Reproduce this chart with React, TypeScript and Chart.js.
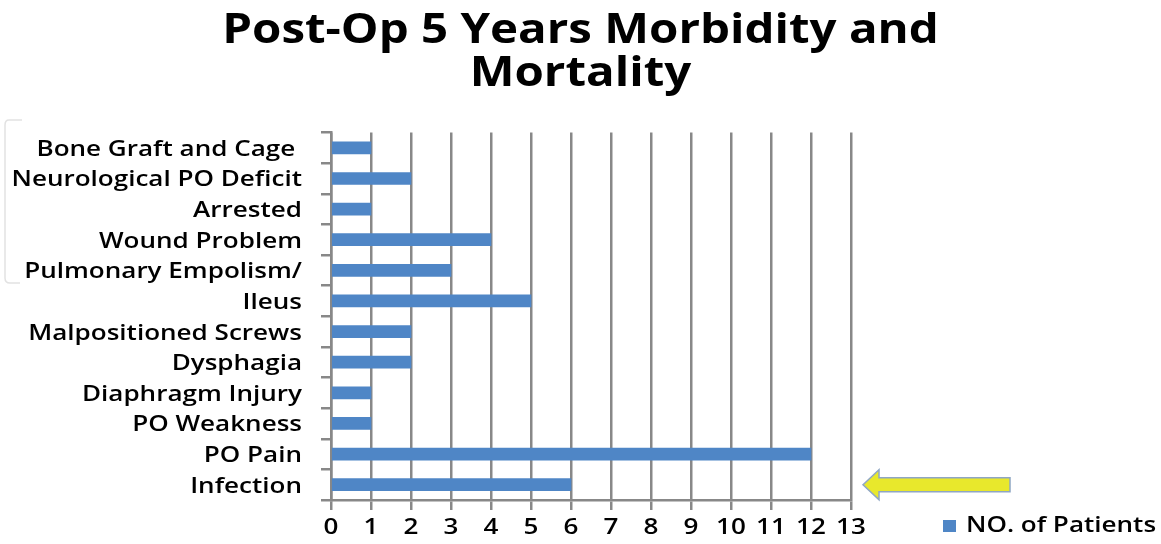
import React, { useEffect, useRef } from "react";
import { Chart, registerables } from "chart.js";

Chart.register(...registerables);

const categories = [
  "Bone Graft and Cage ",
  "Neurological PO Deficit",
  "Arrested",
  "Wound Problem",
  "Pulmonary Empolism/",
  "Ileus",
  "Malpositioned Screws",
  "Dysphagia",
  "Diaphragm Injury",
  "PO Weakness",
  "PO Pain",
  "Infection",
];
const patients = [1, 2, 1, 4, 3, 5, 2, 2, 1, 1, 12, 6];
const seriesLabel = "NO. of Patients";
const titleLines = ["Post-Op 5 Years Morbidity and", "Mortality"];
const xMin = 0;
const xMax = 13;
const highlighted = "Infection";

const BAR = "#4F86C6";
const GRID = "#888888";
const FONT = "'Open Sans', sans-serif";
const STRETCH_BIG = 1.13;
const STRETCH_SMALL = 1.24;

// The reference glyphs are horizontally stretched; emulate by scaling each text draw about its anchor.
function patchStretch(ctx: any) {
  if (ctx.__stretched) return;
  const orig = ctx.fillText.bind(ctx);
  ctx.fillText = function (text: string, x: number, y: number, maxWidth?: number) {
    const m = /(\d+(?:\.\d+)?)px/.exec(ctx.font);
    const size = m ? parseFloat(m[1]) : 12;
    const f = size >= 30 ? STRETCH_BIG : STRETCH_SMALL;
    ctx.save();
    ctx.translate(x, y);
    ctx.scale(f, 1);
    if (maxWidth !== undefined && maxWidth !== null) orig(text, 0, 0, maxWidth / f);
    else orig(text, 0, 0);
    ctx.restore();
  };
  ctx.__stretched = true;
}

const stretchPlugin = {
  id: "stretch",
  beforeInit(chart: any) {
    patchStretch(chart.ctx);
  },
};

const extrasPlugin = {
  id: "extras",
  afterDraw(chart: any) {
    const ctx = chart.ctx;
    const xs = chart.scales.x;
    const ys = chart.scales.y;
    ctx.save();

    // faint frame on the left (scan artifact)
    ctx.strokeStyle = "#e2e2e2";
    ctx.lineWidth = 1.5;
    ctx.beginPath();
    ctx.moveTo(22, 120);
    ctx.lineTo(9, 120);
    ctx.quadraticCurveTo(5, 120, 5, 125);
    ctx.lineTo(5, 278);
    ctx.quadraticCurveTo(5, 283, 10, 283);
    ctx.lineTo(20, 283);
    ctx.stroke();

    // arrow pointing at the highlighted bar
    const idx = categories.indexOf(highlighted);
    const cy = ys.getPixelForValue(idx);
    const tipX = xs.getPixelForValue(xMax) + 12;
    const headX = tipX + 16;
    const endX = tipX + 147;
    const headH = 15;
    const shaftH = 7;
    ctx.beginPath();
    ctx.moveTo(tipX, cy);
    ctx.lineTo(headX, cy - headH);
    ctx.lineTo(headX, cy - shaftH);
    ctx.lineTo(endX, cy - shaftH);
    ctx.lineTo(endX, cy + shaftH);
    ctx.lineTo(headX, cy + shaftH);
    ctx.lineTo(headX, cy + headH);
    ctx.closePath();
    ctx.fillStyle = "#E8E82C";
    ctx.fill();
    ctx.strokeStyle = "#8FA6C4";
    ctx.lineWidth = 1.5;
    ctx.stroke();

    // legend at bottom right
    const ly = 526;
    const lx = 943;
    ctx.fillStyle = BAR;
    ctx.fillRect(lx, ly - 6, 13, 12);
    ctx.fillStyle = "#000";
    ctx.font = `600 21px ${FONT}`;
    ctx.textBaseline = "middle";
    ctx.textAlign = "left";
    ctx.fillText(chart.data.datasets[0].label, lx + 23, ly);
    ctx.restore();
  },
};

export default function App() {
  const ref = useRef<HTMLCanvasElement | null>(null);
  useEffect(() => {
    document.body.style.margin = "0";
    const canvas = ref.current;
    if (!canvas) return;
    const chart = new Chart(canvas, {
      type: "bar",
      data: {
        labels: categories,
        datasets: [
          {
            label: seriesLabel,
            data: patients,
            backgroundColor: BAR,
            borderWidth: 0,
            barThickness: 12,
          },
        ],
      },
      options: {
        indexAxis: "y",
        animation: false,
        responsive: false,
        maintainAspectRatio: false,
        layout: { padding: 0 },
        plugins: {
          legend: { display: false },
          tooltip: { enabled: false },
          title: {
            display: true,
            text: titleLines,
            color: "#000",
            font: { family: FONT, size: 42, weight: "bold", lineHeight: 1.03 },
            padding: { top: 9, bottom: 37 },
          },
        },
        scales: {
          x: {
            min: xMin,
            max: xMax,
            ticks: {
              stepSize: 1,
              color: "#000",
              padding: 5,
              font: { family: FONT, size: 21, weight: 600 },
            },
            grid: {
              color: GRID,
              lineWidth: 2.5,
              tickLength: 10,
              drawOnChartArea: true,
            },
            border: { color: GRID, width: 2.5 },
            afterFit: (s: any) => {
              s.height = 44;
            },
          },
          y: {
            ticks: {
              color: "#000",
              padding: 19,
              labelOffset: 2,
              font: { family: FONT, size: 21, weight: 600 },
              autoSkip: false,
            },
            grid: {
              color: GRID,
              lineWidth: 2.5,
              tickLength: 10,
              drawOnChartArea: false,
              offset: true,
            },
            border: { color: GRID, width: 2.5 },
            afterFit: (s: any) => {
              s.width = 331;
            },
          },
          pad: {
            type: "linear",
            axis: "y",
            position: "right",
            display: true,
            grid: { display: false, drawTicks: false },
            ticks: { display: false },
            border: { display: false },
            afterFit: (s: any) => {
              s.width = 310;
            },
          },
        },
      },
      plugins: [stretchPlugin, extrasPlugin],
    });
    return () => chart.destroy();
  }, []);
  return (
    <div style={{ width: 1161, height: 544, background: "#fff" }}>
      <canvas ref={ref} width={1161} height={544} style={{ display: "block" }} />
    </div>
  );
}
